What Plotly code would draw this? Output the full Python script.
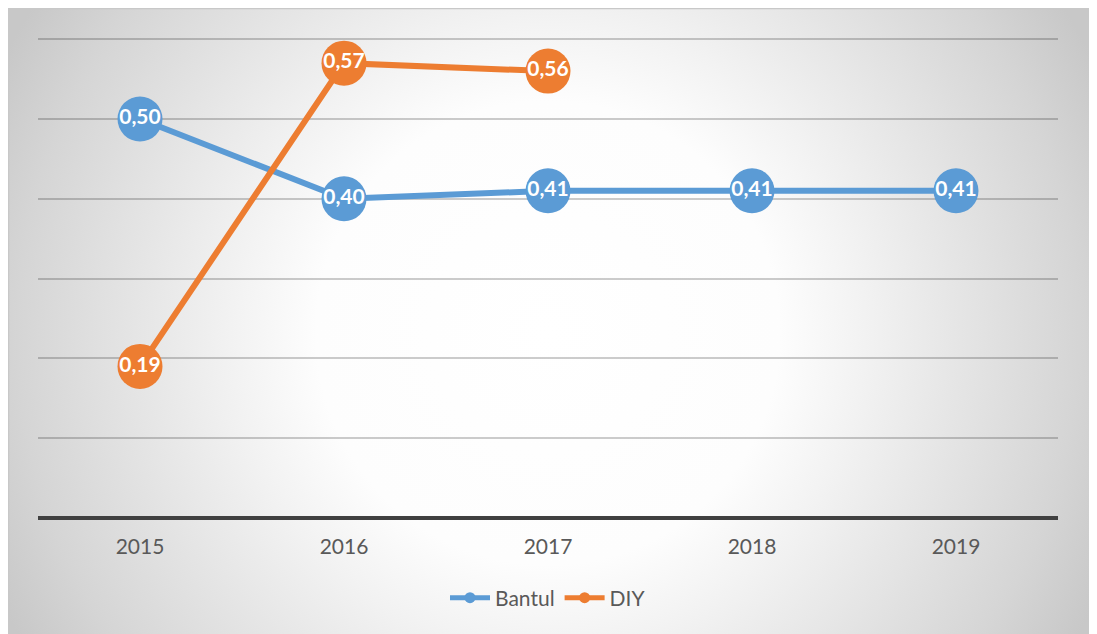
import base64
import plotly.graph_objects as go

years = ["2015", "2016", "2017", "2018", "2019"]
bantul = [0.50, 0.40, 0.41, 0.41, 0.41]
diy = [0.19, 0.57, 0.56, None, None]

BLUE = "#5B9BD5"
ORANGE = "#ED7D31"
FONT = "Lato"


def fmt(vals):
    return ["" if v is None else f"{v:.2f}".replace(".", ",") for v in vals]


fig = go.Figure()
for name, vals, col in [("Bantul", bantul, BLUE), ("DIY", diy, ORANGE)]:
    fig.add_trace(go.Scatter(
        x=years, y=vals, name=name, mode="lines+markers+text",
        line=dict(color=col, width=6),
        marker=dict(color=col, size=45),
        text=fmt(vals), textposition="middle center",
        textfont=dict(family=FONT, size=21, color="white", weight="bold"),
        showlegend=False, cliponaxis=False,
    ))
    # legend-only entry (no data)
    fig.add_trace(go.Scatter(
        x=[None], y=[None], name=name, mode="lines+markers",
        line=dict(color=col, width=5), marker=dict(color=col, size=11),
    ))

# page offset (body margin of 8px)
OFF = 8
FW, FH = 1097 - OFF, 634 - OFF

# radial gradient background
W, H = FW, FH
svg = f'''<svg xmlns="http://www.w3.org/2000/svg" width="{W}" height="{H}" viewBox="0 0 {W} {H}" preserveAspectRatio="none">
<defs><radialGradient id="g" gradientUnits="userSpaceOnUse" cx="540" cy="325" r="610">
<stop offset="0" stop-color="#ffffff"/>
<stop offset="0.38" stop-color="#fdfdfd"/>
<stop offset="0.52" stop-color="#f2f2f2"/>
<stop offset="0.87" stop-color="#d5d5d5"/>
<stop offset="1" stop-color="#c8c8c8"/>
</radialGradient></defs>
<rect width="{W}" height="{H}" fill="url(#g)"/></svg>'''
src = "data:image/svg+xml;base64," + base64.b64encode(svg.encode()).decode()

# plot area in page pixels
PX0, PX1, PY0, PY1 = 38, 1058, 38, 518


def px(x):
    return (x - PX0) / (PX1 - PX0)


def py(y):
    return (PY1 - y) / (PY1 - PY0)


fig.add_layout_image(dict(
    source=src, xref="paper", yref="paper",
    x=px(OFF), y=py(OFF), sizex=FW / (PX1 - PX0), sizey=FH / (PY1 - PY0),
    xanchor="left", yanchor="top", sizing="stretch", layer="below",
))

shapes = [
    dict(type="line", xref="paper", yref="paper", x0=0, x1=1, y0=0, y1=0,
         line=dict(color="#404040", width=4), layer="above"),
    dict(type="line", xref="paper", yref="paper", x0=px(8.5), x1=px(1100), y0=py(8.5), y1=py(8.5),
         line=dict(color="#c8c8c8", width=1.5)),
    dict(type="line", xref="paper", yref="paper", x0=px(8.5), x1=px(8.5), y0=py(8.5), y1=py(640),
         line=dict(color="#c8c8c8", width=1.5)),
]

fig.update_layout(
    width=FW, height=FH,
    margin=dict(l=PX0 - OFF, r=1097 - PX1, t=PY0 - OFF, b=634 - PY1),
    paper_bgcolor="white", plot_bgcolor="rgba(0,0,0,0)",
    shapes=shapes,
    font=dict(family=FONT, color="#595959", size=21),
    xaxis=dict(type="category", range=[-0.5, 4.5], showgrid=False, showline=False,
               zeroline=False, ticks="", ticklabelstandoff=14,
               tickfont=dict(family=FONT, size=21, color="#595959")),
    yaxis=dict(range=[0, 0.6015], dtick=0.1, tick0=0, showticklabels=False,
               gridcolor="rgba(0,0,0,0.2)", gridwidth=1.5, zeroline=False, showline=False),
    legend=dict(orientation="h", x=0.5, xanchor="center", y=py(598), yanchor="middle",
                bgcolor="rgba(0,0,0,0)", font=dict(family=FONT, size=21, color="#595959"),
                itemwidth=40),
)

fig.write_html("out.html")
